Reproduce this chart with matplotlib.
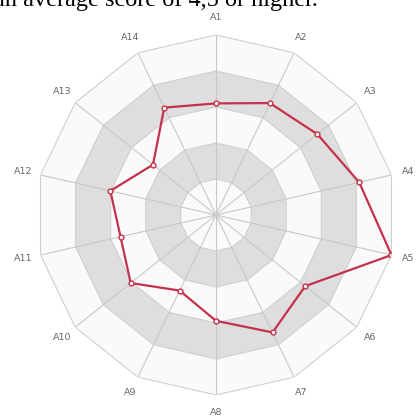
import numpy as np
import matplotlib.pyplot as plt

labels = ['A1', 'A2', 'A3', 'A4', 'A5', 'A6', 'A7', 'A8', 'A9', 'A10', 'A11', 'A12', 'A13', 'A14']
scores = [3.1, 3.45, 3.6, 4.08, 5.0, 3.17, 3.62, 2.94, 2.33, 3.03, 2.72, 3.01, 2.24, 3.31]
levels = [5, 4, 3, 2, 1]
band_colors = ['#fafafa', '#dedede', '#fafafa', '#dedede', '#fafafa']

n = len(labels)
theta = np.linspace(0, 2 * np.pi, n, endpoint=False)
theta_c = np.append(theta, theta[0])

fig = plt.figure(figsize=(4.16, 4.16), dpi=100)
ax = fig.add_axes([0.0865, 0.0505, 0.8654, 0.8654], projection='polar')
ax.set_theta_zero_location('N')
ax.set_theta_direction(-1)
ax.set_ylim(0, 5)
ax.grid(False)
ax.set_xticks([])
ax.set_yticks([])
ax.spines['polar'].set_visible(False)
ax.patch.set_alpha(0)

# alternating bands
for lv, col in zip(levels, band_colors):
    ax.fill(theta_c, [lv] * (n + 1), color=col, lw=0, zorder=1)
for lv in levels:
    ax.plot(theta_c, [lv] * (n + 1), color='#cfcfcf', lw=0.8, zorder=2)
for t in theta:
    ax.plot([t, t], [0, 5], color='#c8c8c8', lw=0.8, zorder=2)

sc = scores + scores[:1]
ax.plot(theta_c, sc, color='#c4314b', lw=1.6, zorder=3)
ax.plot(theta, scores, 'o', ms=3.5, mfc='white', mec='#c4314b', mew=1, zorder=4)

for t, lab in zip(theta, labels):
    ax.text(t, 5.48, lab, ha='center', va='center', fontsize=6.8, color='#666666', clip_on=False)

# caption from the page above, cut by the crop
fig.text(-0.014, 0.9856, 'an average score of 4,5 or higher.', family='Liberation Serif',
         fontsize=17.5, ha='left', va='baseline', color='black')

fig.savefig('out.png', dpi=100)
